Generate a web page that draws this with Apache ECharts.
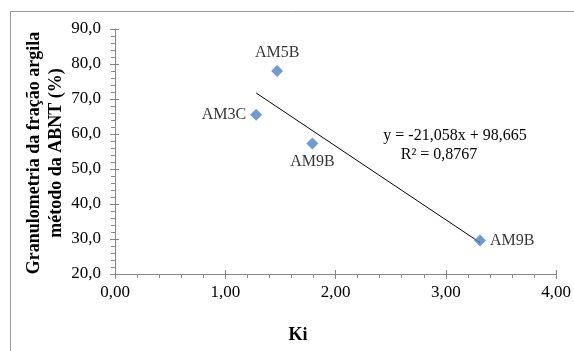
<!DOCTYPE html>
<html>
<head>
<meta charset="utf-8">
<script src="https://cdn.jsdelivr.net/npm/echarts@6/dist/echarts.min.js"></script>
<style>html,body{margin:0;padding:0;background:#fff}#c{width:574px;height:351px}</style>
</head>
<body>
<div id="c"></div>
<script>
// ---- data ----
var sampleNames = ['AM3C', 'AM5B', 'AM9B', 'AM9B'];
var kiValues = [1.28, 1.47, 1.79, 3.31];
var clayValues = [65.5, 78.0, 57.3, 29.6];
var trendSlope = -21.058;
var trendIntercept = 98.665;
var trendR2 = 0.8767;
var xTitle = 'Ki';
var yTitleLines = ['Granulometria da fração argila', 'método da ABNT (%)'];
var equationText = 'y = -21,058x + 98,665';
var r2Text = 'R² = 0,8767';

// ---- chart ----
var FONT = '"Liberation Serif","Times New Roman",serif';
var labelPos = ['left', 'top', 'bottom', 'right'];
var pts = kiValues.map(function (x, i) {
  return {
    value: [x, clayValues[i]],
    name: sampleNames[i],
    label: { position: labelPos[i] }
  };
});
var xMin = Math.min.apply(null, kiValues), xMax = Math.max.apply(null, kiValues);
var trend = [[xMin, trendSlope * xMin + trendIntercept], [xMax, trendSlope * xMax + trendIntercept]];

var axisCommon = {
  axisLine: { show: true, lineStyle: { color: '#868686', width: 1 } },
  splitLine: { show: false }
};
var chart = echarts.init(document.getElementById('c'), null, { renderer: 'canvas' });
chart.setOption({
  animation: false,
  grid: { left: 115, right: 16, top: 29, bottom: 77 },
  xAxis: [
    Object.assign({}, axisCommon, {
      type: 'value', min: 0, max: 4, interval: 1, position: 'bottom',
      axisTick: { show: true, length: 5, lineStyle: { color: '#868686' } },
      minorTick: { show: true, splitNumber: 5, length: 4, lineStyle: { color: '#868686' } },
      axisLabel: { color: '#000', fontFamily: FONT, fontSize: 17, margin: 10,
        formatter: function (v) { return v.toFixed(2).replace('.', ','); } }
    }),
    {
      type: 'value', min: 0, max: 4, interval: 1, position: 'bottom', offset: 0,
      axisLine: { show: false }, splitLine: { show: false }, axisLabel: { show: false },
      axisTick: { show: true, inside: true, length: 4, lineStyle: { color: '#868686' } }
    }
  ],
  yAxis: [
    Object.assign({}, axisCommon, {
      type: 'value', min: 20, max: 90, interval: 10, position: 'left',
      axisTick: { show: true, length: 5, lineStyle: { color: '#868686' } },
      minorTick: { show: true, splitNumber: 5, length: 4, lineStyle: { color: '#868686' } },
      axisLabel: { color: '#000', fontFamily: FONT, fontSize: 17, margin: 14,
        formatter: function (v) { return v.toFixed(1).replace('.', ','); } }
    }),
    {
      type: 'value', min: 20, max: 90, interval: 10, position: 'left', offset: 0,
      axisLine: { show: false }, splitLine: { show: false }, axisLabel: { show: false },
      axisTick: { show: true, inside: true, length: 4, lineStyle: { color: '#868686' } }
    }
  ],
  series: [
    {
      type: 'line', data: trend, showSymbol: false, symbol: 'none',
      lineStyle: { color: '#000', width: 1 }, silent: true, z: 1
    },
    {
      type: 'scatter', data: pts, symbol: 'diamond', symbolSize: 12,
      itemStyle: { color: '#4F81BD' }, z: 3,
      label: {
        show: true, formatter: '{b}', color: '#000', fontFamily: FONT, fontSize: 16, distance: 4
      }
    }
  ],
  graphic: [
    { type: 'rect', shape: { x: 10.5, y: 11.5, width: 600, height: 400 },
      style: { fill: 'none', stroke: '#999', lineWidth: 1 }, silent: true, z: -10 },
    { type: 'text', x: 298, y: 335, style: { text: xTitle, font: 'bold 18px ' + FONT, fill: '#000', textAlign: 'center', textVerticalAlign: 'middle' } },
    { type: 'text', x: 34, y: 153, rotation: Math.PI / 2, style: { text: yTitleLines[0], font: 'bold 18px ' + FONT, fill: '#000', textAlign: 'center', textVerticalAlign: 'middle' } },
    { type: 'text', x: 56, y: 153, rotation: Math.PI / 2, style: { text: yTitleLines[1], font: 'bold 18px ' + FONT, fill: '#000', textAlign: 'center', textVerticalAlign: 'middle' } },
    { type: 'text', x: 455, y: 136, style: { text: equationText, font: '16px ' + FONT, fill: '#000', textAlign: 'center', textVerticalAlign: 'middle' } },
    { type: 'text', x: 439, y: 155, style: { text: r2Text, font: '16px ' + FONT, fill: '#000', textAlign: 'center', textVerticalAlign: 'middle' } }
  ]
});
</script>
</body>
</html>
